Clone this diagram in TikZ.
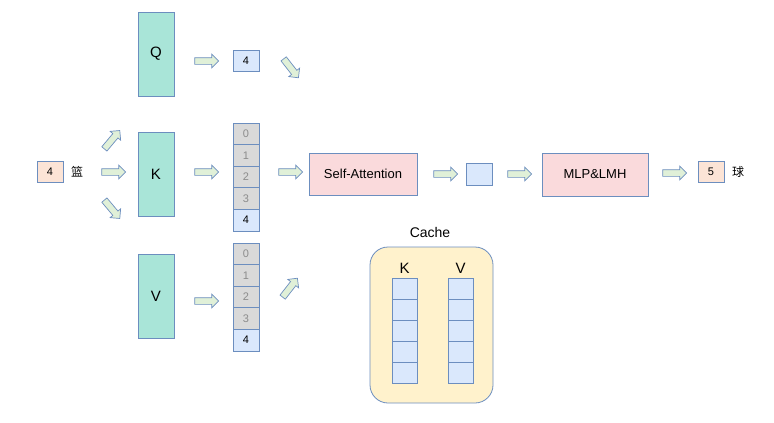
\documentclass[tikz,border=0pt]{standalone}
\usepackage{fontspec}
\setmainfont{Liberation Sans}
\newfontfamily\cjk{Noto Sans CJK SC}
\usetikzlibrary{shapes.arrows}
\definecolor{edgeblue}{HTML}{6C8EBF}
\definecolor{tealfill}{HTML}{A9E5D8}
\definecolor{bluefill}{HTML}{DAE8FC}
\definecolor{peachfill}{HTML}{FCE4D6}
\definecolor{pinkfill}{HTML}{FADADC}
\definecolor{grayfill}{HTML}{D9D9D9}
\definecolor{greenfill}{HTML}{E0F0D8}
\definecolor{cachefill}{HTML}{FFF2CC}
\tikzset{
  box/.style={draw=edgeblue, line width=0.8pt, inner sep=0pt},
  tok/.style={box, fill=peachfill, minimum width=26pt, minimum height=21pt, font=\fontsize{11}{13}\selectfont},
  proj/.style={box, fill=tealfill, minimum width=36pt, minimum height=84pt, font=\fontsize{15}{18}\selectfont},
  block/.style={box, fill=pinkfill, minimum height=42pt, font=\fontsize{13}{16}\selectfont},
  cell/.style={box, fill=bluefill, minimum width=26pt, minimum height=21.6pt, font=\fontsize{11}{13}\selectfont},
  oldcell/.style={cell, fill=grayfill, text=black!45},
  fat/.style={single arrow, draw=edgeblue, fill=greenfill, line width=0.7pt,
    minimum height=24pt, minimum width=13pt, inner sep=3pt, single arrow head extend=3.5pt},
}
\begin{document}
\begin{tikzpicture}[x=1pt, y=-1pt]
\useasboundingbox (0,0) rectangle (774,423);
% input token
\node[tok] (in) at (50,172) {4};
\node[font=\cjk\fontsize{12}{14}\selectfont] (inw) at (77,172) {篮};
\node[fat, rotate=50] (a1) at (111,141) {};
\node[fat] (a2) at (112,172) {};
\node[fat, rotate=-50] (a3) at (111,208) {};
% projections
\node[proj] (Q) at (156,54) {Q};
\node[proj] (K) at (156,174) {K};
\node[proj] (V) at (156,296.5) {V};
\node[fat] (aq) at (205,61) {};
\node[fat] (ak) at (205,172) {};
\node[fat] (av) at (205,301) {};
\node[cell] (q4) at (246,61) {4};
% K and V stacks
\foreach \i in {0,...,3} {
  \node[oldcell] (k\i) at (246,{133.8+21.6*\i}) {\i};
  \node[oldcell] (v\i) at (246,{253.8+21.6*\i}) {\i};
}
\node[cell] (k4) at (246,220.2) {4};
\node[cell] (v4) at (246,340.2) {4};
\node[fat, rotate=-52] (bq) at (290,67) {};
\node[fat] (bk) at (289,172) {};
\node[fat, rotate=52] (bv) at (289,289) {};
% attention and head
\node[block, minimum width=108pt] (sa) at (363,174) {Self-Attention};
\node[fat] (c1) at (444,174) {};
\node[cell, minimum height=22pt] (h) at (479,174) {};
\node[fat] (c2) at (518,174) {};
\node[block, minimum width=106pt, minimum height=43pt] (mlp) at (595,174.5) {MLP\&LMH};
\node[fat] (c3) at (673,173) {};
\node[tok] (out) at (711,172) {5};
\node[font=\cjk\fontsize{12}{14}\selectfont] (outw) at (738,172) {球};
% cache
\draw[draw=edgeblue, line width=0.8pt, fill=cachefill, rounded corners=18pt] (370,247) rectangle (493,403);
\node[font=\fontsize{14}{17}\selectfont] (cache) at (430,232) {Cache};
\node[font=\fontsize{15}{18}\selectfont] (ck) at (404.5,268) {K};
\node[font=\fontsize{15}{18}\selectfont] (cv) at (460.5,268) {V};
\foreach \i in {0,...,4} {
  \node[cell, minimum width=25pt, minimum height=21pt] (ck\i) at (404.5,{288.5+21*\i}) {};
  \node[cell, minimum width=25pt, minimum height=21pt] (cv\i) at (460.5,{288.5+21*\i}) {};
}
\end{tikzpicture}
\end{document}
